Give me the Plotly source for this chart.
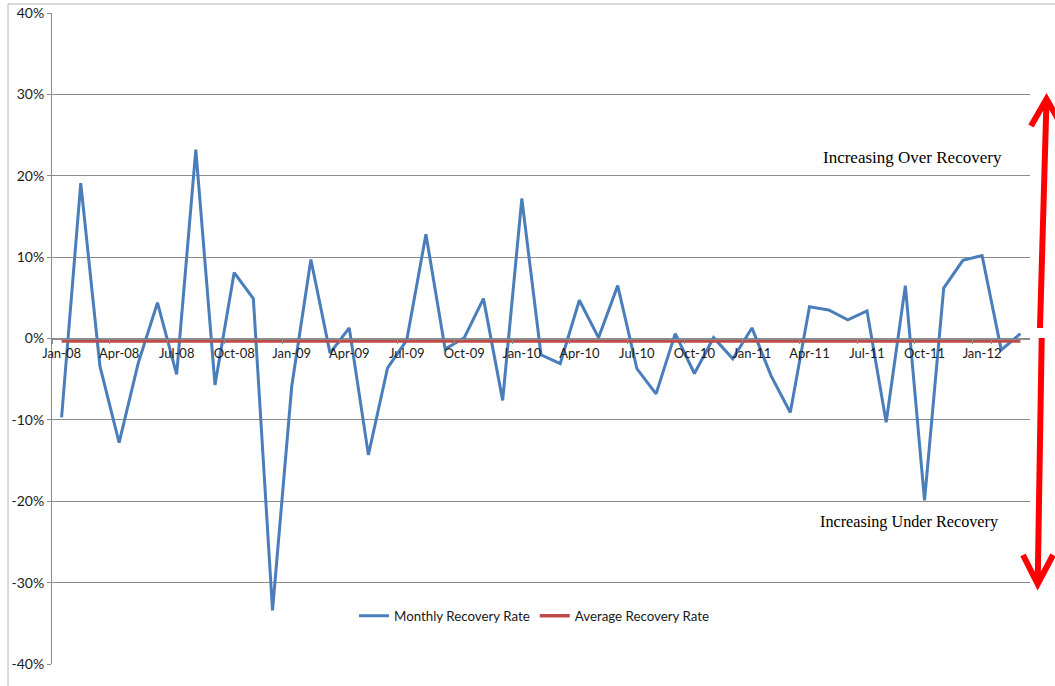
import plotly.graph_objects as go

months = ["Jan", "Feb", "Mar", "Apr", "May", "Jun", "Jul", "Aug", "Sep", "Oct", "Nov", "Dec"]
categories = [f"{m}-{y:02d}" for y in (8, 9, 10, 11) for m in months] + ["Jan-12", "Feb-12", "Mar-12"]

monthly_rate = [
    -9.7, 19.1, -3.4, -12.8, -3.0, 4.4, -4.4, 23.2, -5.7, 8.1, 4.9, -33.4,
    -5.9, 9.7, -1.8, 1.3, -14.3, -3.6, -0.2, 12.8, -1.3, 0.1, 4.9, -7.6,
    17.2, -2.0, -3.1, 4.7, 0.1, 6.5, -3.7, -6.8, 0.6, -4.3, 0.1, -2.5,
    1.3, -4.6, -9.1, 3.9, 3.5, 2.3, 3.4, -10.3, 6.5, -19.9, 6.2, 9.6,
    10.2, -1.4, 0.6,
]
average_rate_value = -0.3
average_rate = [average_rate_value] * len(categories)

tick_labels = categories[::3]
y_ticks = [-40, -30, -20, -10, 0, 10, 20, 30, 40]
y_tick_text = ["-40%", "-30%", "-20%", "-10%", "0%", "10%", "20%", "30%", "40%"]

W, H = 1055, 686
L, R, T, B = 52, 1030, 13, 664


def px(x):
    return (x - L) / (R - L)


def py(y):
    return (B - y) / (B - T)


fig = go.Figure()
fig.add_trace(go.Scatter(
    x=categories, y=monthly_rate, mode="lines", name="Monthly Recovery Rate",
    line=dict(color="#4a7ebb", width=3),
))
fig.add_trace(go.Scatter(
    x=categories, y=average_rate, mode="lines", name="Average Recovery Rate",
    line=dict(color="#be4b48", width=3.5),
))

grid = "#8c8c8c"
fig.update_layout(
    width=W, height=H,
    margin=dict(l=L, r=W - R, t=T, b=H - B, autoexpand=False),
    plot_bgcolor="white", paper_bgcolor="white",
    font=dict(family="Lato", size=13, color="#1a1a1a"),
    showlegend=True,
    legend=dict(
        orientation="h", x=px(534), y=py(616), xanchor="center", yanchor="middle",
        font=dict(family="Lato", size=13.3, color="#1a1a1a"),
        bgcolor="rgba(0,0,0,0)", itemwidth=30,
    ),
    xaxis=dict(
        type="category", range=[-0.5, len(categories) - 0.5],
        tickvals=tick_labels, ticktext=tick_labels, tickson="boundaries",
        tickangle=0, ticklabelstandoff=3,
        ticks="outside", ticklen=4, tickcolor=grid,
        showline=True, linecolor=grid, linewidth=1,
        showgrid=False, zeroline=False,
        anchor="free", position=0.5, automargin=False,
        tickfont=dict(family="Lato", size=13, color="#1a1a1a"),
        fixedrange=True,
    ),
    yaxis=dict(
        range=[-40, 40], tickvals=y_ticks, ticktext=y_tick_text,
        showgrid=True, gridcolor=grid, gridwidth=1,
        zeroline=False, showline=True, linecolor=grid, linewidth=1,
        ticks="outside", ticklen=4, tickcolor=grid, automargin=False,
        tickfont=dict(family="Lato", size=14, color="#1a1a1a"),
        fixedrange=True,
    ),
)

# outer chart border
fig.add_shape(type="rect", xref="paper", yref="paper",
              x0=px(8), y0=py(700), x1=px(1070), y1=py(4),
              line=dict(color="#b4b4b4", width=1), layer="below")

# text annotations
fig.add_annotation(xref="paper", yref="paper", x=px(1004), y=py(157),
                   xanchor="right", yanchor="middle", showarrow=False,
                   text="Increasing Over Recovery",
                   font=dict(family="Liberation Serif", size=17, color="#000000"))
fig.add_annotation(xref="paper", yref="paper", x=px(1001), y=py(522),
                   xanchor="right", yanchor="middle", showarrow=False,
                   text="Increasing Under Recovery",
                   font=dict(family="Liberation Serif", size=16.2, color="#000000"))

# red arrows
red = dict(color="#ff0000", width=6)
up = (f"M {px(1040)},{py(328)} L {px(1046.5)},{py(100)} "
      f"M {px(1031)},{py(126)} L {px(1046.5)},{py(99)} L {px(1062)},{py(126)}")
down = (f"M {px(1041.7)},{py(338)} L {px(1037.7)},{py(582)} "
        f"M {px(1023)},{py(555)} L {px(1037.7)},{py(584)} L {px(1053)},{py(555)}")
fig.add_shape(type="path", xref="paper", yref="paper", path=up, line=red)
fig.add_shape(type="path", xref="paper", yref="paper", path=down, line=red)

fig.write_html("out.html")
